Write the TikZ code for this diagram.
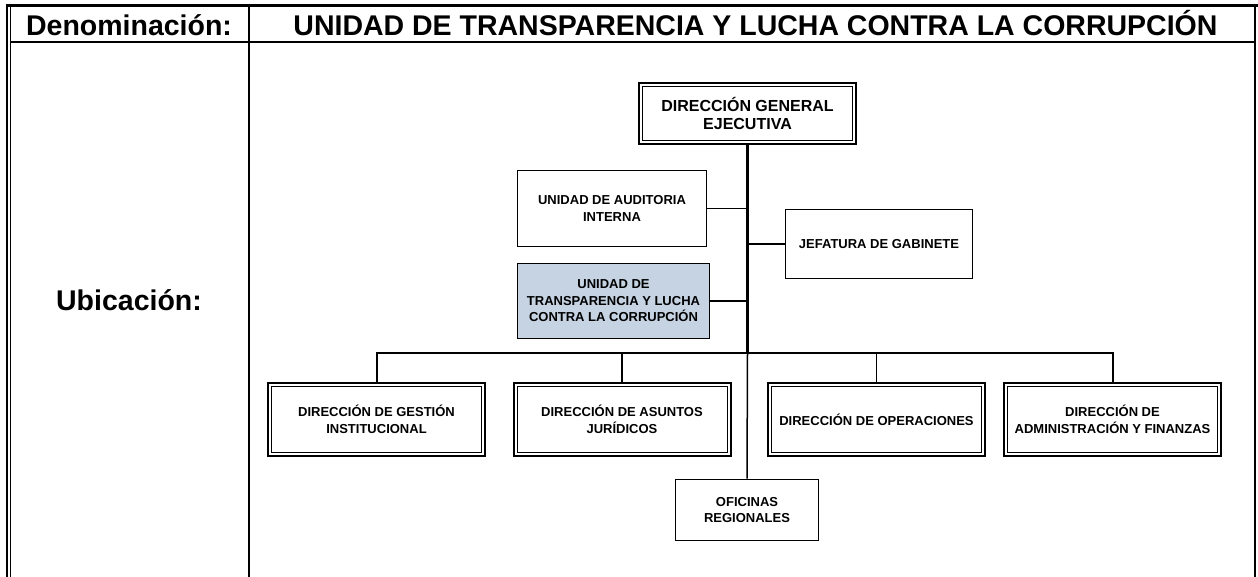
\documentclass[tikz,border=0pt]{standalone}
\usepackage{fontspec}
\setmainfont{Liberation Sans}
\definecolor{utblue}{RGB}{197,211,227}

\begin{document}
\begin{tikzpicture}[x=1pt,y=-1pt,
  head/.style={font=\fontsize{28.5}{30}\selectfont\bfseries,inner sep=0pt,anchor=base},
  sbox/.style={draw,line width=1.6pt,align=center,inner sep=2pt,font=\fontsize{13}{16.5}\selectfont\bfseries},
  dbox/.style={sbox,line width=2pt,
    path picture={\draw[line width=1pt] ([shift={(3.5pt,-3.5pt)}]path picture bounding box.north west)
      rectangle ([shift={(-3.5pt,3.5pt)}]path picture bounding box.south east);}},
  link/.style={line width=1.5pt}]

\useasboundingbox (0,0) rectangle (1258,577);

% cuadro
\draw[line width=3pt] (5.5,6) -- (1258,6);
\draw[line width=1.6pt] (7,5) -- (7,577);
\draw[line width=1.6pt] (10.5,5) -- (10.5,577);
\draw[line width=2pt] (10.5,42) -- (1255,42);
\draw[line width=2pt] (249,6) -- (249,577);
\draw[line width=2pt] (1255,6) -- (1255,577);

\node[head] (den) at (129,36) {Denominación:};
\node[head] (tit) at (755.5,36) {UNIDAD DE TRANSPARENCIA Y LUCHA CONTRA LA CORRUPCIÓN};
\node[head] (ubi) at (129,310) {Ubicación:};

% organigrama
\node[dbox,minimum width=217pt,minimum height=61pt,font=\fontsize{16}{18}\selectfont\bfseries] (dge) at (747.5,113.5) {DIRECCIÓN GENERAL\\EJECUTIVA};
\node[sbox,minimum width=189pt,minimum height=76pt] (uai) at (612,208.5) {UNIDAD DE AUDITORIA\\INTERNA};
\node[sbox,fill=utblue,minimum width=192pt,minimum height=75pt] (utl) at (613.5,301) {UNIDAD DE\\TRANSPARENCIA Y LUCHA\\CONTRA LA CORRUPCIÓN};
\node[sbox,minimum width=187pt,minimum height=69pt] (jga) at (879,244) {JEFATURA DE GABINETE};

\node[dbox,minimum width=217pt,minimum height=73pt] (dgi) at (376.5,419.5) {DIRECCIÓN DE GESTIÓN\\INSTITUCIONAL};
\node[dbox,minimum width=217pt,minimum height=73pt] (daj) at (622,419.5) {DIRECCIÓN DE ASUNTOS\\JURÍDICOS};
\node[dbox,minimum width=217pt,minimum height=73pt] (dop) at (876.5,419.5) {DIRECCIÓN DE OPERACIONES};
\node[dbox,minimum width=217pt,minimum height=73pt] (daf) at (1112.5,419.5) {DIRECCIÓN DE\\ADMINISTRACIÓN Y FINANZAS};

\node[sbox,minimum width=143pt,minimum height=61pt] (ofr) at (747,510) {OFICINAS\\REGIONALES};

\coordinate (bus) at (747,353);

\draw[line width=2.6pt] (dge.south) -- (dge.south |- bus);
\draw[link] (dge.south |- bus) -- (ofr.north);
\draw[link] (uai.east) -- (uai.east -| dge.south);
\draw[link] (utl.east) -- (utl.east -| dge.south);
\draw[link] (jga.west) -- (jga.west -| dge.south);

\draw[line width=2pt] (dgi.north) |- (daf.north |- bus) -- (daf.north);
\draw[link] (daj.north) -- (daj.north |- bus);
\draw[link] (dop.north) -- (dop.north |- bus);

\end{tikzpicture}
\end{document}
